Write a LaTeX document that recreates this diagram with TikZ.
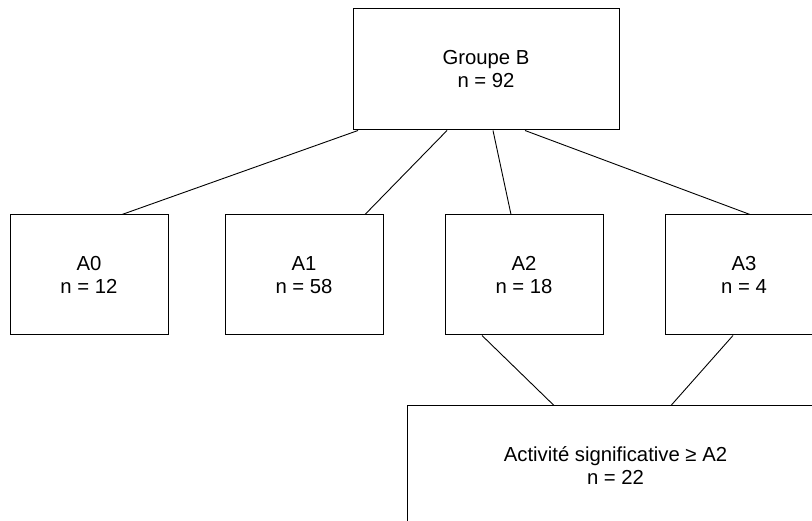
\documentclass[tikz,border=0pt]{standalone}
\usepackage{fontspec}
\setmainfont{Liberation Sans}

\begin{document}
\begin{tikzpicture}[x=1pt,y=-1pt,
    box/.style={draw,line width=1pt,minimum width=158pt,minimum height=120pt,
        align=center,inner sep=0pt,font=\fontsize{20.3}{23}\selectfont},
    link/.style={line width=0.9pt}]
    \useasboundingbox (0,0) rectangle (812,521);
    \clip (0,0) rectangle (812,521);

    % Group
    \node[box,minimum width=266pt,minimum height=121pt] (grp) at (486,69.5) {Groupe B\\n = 92};

    % Levels
    \node[box] (a0) at (89,275) {A0\\n = 12};
    \node[box] (a1) at (304,275) {A1\\n = 58};
    \node[box] (a2) at (524,275) {A2\\n = 18};
    \node[box] (a3) at (744,275) {A3\\n = 4};

    % Significant activity
    \node[box,minimum width=417pt] (sig) at (615.5,466) {Activité significative ≥ A2\\n = 22};

    % Links
    \draw[link] ([xshift=-128pt]grp.south) -- ([xshift=33pt]a0.north);
    \draw[link] ([xshift=-39pt]grp.south) -- ([xshift=61pt]a1.north);
    \draw[link] ([xshift=7pt]grp.south) -- ([xshift=-13pt]a2.north);
    \draw[link] ([xshift=39pt]grp.south) -- ([xshift=6pt]a3.north);
    \draw[link] ([xshift=-42pt]a2.south) -- ([xshift=-61.5pt]sig.north);
    \draw[link] ([xshift=-11pt]a3.south) -- ([xshift=55.5pt]sig.north);
\end{tikzpicture}
\end{document}
